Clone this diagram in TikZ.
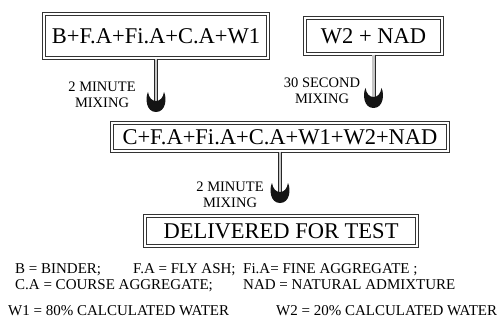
\documentclass[tikz,border=0pt]{standalone}
\usepackage{fontspec}
\setmainfont{Liberation Serif}
\usetikzlibrary{calc}

\tikzset{
  mixbox/.style={draw=black!80, line width=0.7pt, double=white, double distance=2.2pt,
    inner sep=0pt, font=\fontsize{22.5}{25}\selectfont},
  shaft/.style={draw=black!85, line width=0.7pt, double=gray!45, double distance=2.6pt},
  steplabel/.style={align=center, inner sep=0pt, font=\fontsize{14.5}{16}\selectfont},
  legend/.style={anchor=base west, inner sep=0pt, font=\fontsize{15}{17}\selectfont},
  crescent/.pic={
    \fill[black!92] (-8,-20) .. controls (-11,-14) and (-10,0) .. (0,0)
      .. controls (10,0) and (11,-14) .. (8,-20)
      .. controls (7,-14) and (4,-11) .. (0,-11)
      .. controls (-4,-11) and (-7,-14) .. (-8,-20) -- cycle;
  }
}

\begin{document}
\begin{tikzpicture}[x=1pt, y=-1pt]
\useasboundingbox (0,0) rectangle (502,323);

% mixing stages
\node[mixbox, minimum width=224.4pt, minimum height=44.4pt] (b1) at (156,36) {B+F.A+Fi.A+C.A+W1};
\node[mixbox, minimum width=137.4pt, minimum height=36.4pt] (b2) at (373.5,36) {W2 + NAD};
\node[mixbox, minimum width=336.4pt, minimum height=28.4pt] (b3) at (280,137) {C+F.A+Fi.A+C.A+W1+W2+NAD};
\node[mixbox, minimum width=272.4pt, minimum height=30.4pt] (b4) at (281,231) {DELIVERED FOR TEST};

% arrow ends, just above the next stage
\coordinate (y1) at (0,112);
\coordinate (y2) at (0,108);
\coordinate (y3) at (0,203);
\coordinate (e1) at (b1.south |- y1);
\coordinate (e2) at (b2.south |- y2);
\coordinate (e3) at (b3.south |- y3);

\draw[shaft] (b1.south) -- ($(e1)+(0,-10)$);
\draw[shaft] (b2.south) -- ($(e2)+(0,-10)$);
\draw[shaft] (b3.south) -- ($(e3)+(0,-10)$);
\pic at (e1) {crescent};
\pic at (e2) {crescent};
\pic at (e3) {crescent};

% mixing times
\node[steplabel] (m1) at (102,95) {2 MINUTE\\MIXING};
\node[steplabel] (m2) at (322,91) {30 SECOND\\MIXING};
\node[steplabel] (m3) at (230,195) {2 MINUTE\\MIXING};

% abbreviations
\node[legend] (l1) at (15,273) {B = BINDER;};
\node[legend] (l2) at (133,273) {F.A = FLY ASH;};
\node[legend] (l3) at (243,273) {Fi.A= FINE AGGREGATE ;};
\node[legend] (l4) at (15,289) {C.A = COURSE AGGREGATE;};
\node[legend] (l5) at (243,289) {NAD = NATURAL ADMIXTURE};
\node[legend] (l6) at (8,315) {W1 = 80\% CALCULATED WATER};
\node[legend] (l7) at (276,315) {W2 = 20\% CALCULATED WATER};
\end{tikzpicture}
\end{document}
